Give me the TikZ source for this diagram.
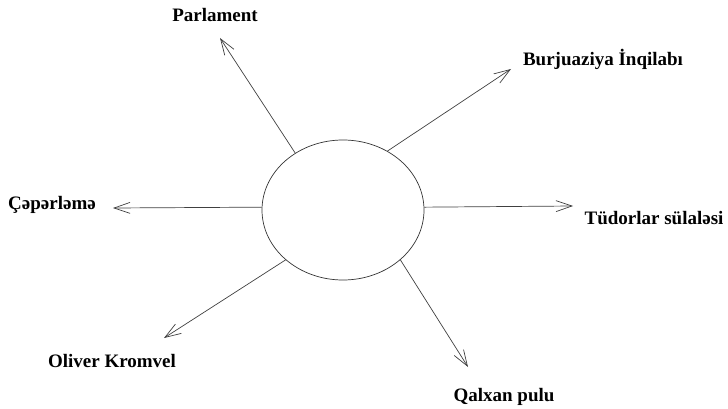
\documentclass[tikz,border=0pt]{standalone}
\usepackage{fontspec}
\setmainfont{Liberation Serif}
\usetikzlibrary{arrows.meta,shapes.geometric}

\tikzset{
  lbl/.style={font=\bfseries\fontsize{19}{22}\selectfont, inner sep=0pt},
  ray/.style={draw=black!75, line width=0.7pt, -{Straight Barb[length=16pt,width=11pt]}}
}

\begin{document}
\begin{tikzpicture}[x=1pt,y=-1pt]
      \useasboundingbox (0,0) rectangle (728,409);
      %%%%%%%%%%%%%%%%%%%%%%%%%%%%%%%%%%%%%%%%%%%%%%%
      \node[draw=black!80, line width=0.7pt, ellipse, minimum width=162, minimum height=140, inner sep=0pt] at (343,210) (hub) {};
      %%%%%%%%%%%%%%%%%%%%%%%%%%%%%%%%%%%%%%%%%%%%%%%
      \node[lbl] at (215,15)  (parl) {Parlament};
      \node[lbl] at (603,59)  (burj) {Burjuaziya İnqilabı};
      \node[lbl] at (654,218) (tud)  {Tüdorlar sülaləsi};
      \node[lbl] at (504,397) (qalx) {Qalxan pulu};
      \node[lbl] at (112,361) (oliv) {Oliver Kromvel};
      \node[lbl] at (52,205)  (cep)  {Çəpərləmə};
      %%%%%%%%%%%%%%%%%%%%%%%%%%%%%%%%%%%%%%%%%%%%%%%
      \coordinate (tparl) at (220,38);
      \coordinate (tburj) at (511,69);
      \coordinate (ttud)  at (573,206);
      \coordinate (tqalx) at (468,367);
      \coordinate (toliv) at (164,338);
      \coordinate (tcep)  at (113,208);
      \draw[ray] (hub.130) -- (tparl);
      \draw[ray] (hub.53)  -- (tburj);
      \draw[ray] (hub.2)   -- (ttud);
      \draw[ray] (hub.319) -- (tqalx);
      \draw[ray] (hub.221) -- (toliv);
      \draw[ray] (hub.178) -- (tcep);
      %%%%%%%%%%%%%%%%%%%%%%%%%%%%%%%%%%%%%%%%%%%%%%%
\end{tikzpicture}
\end{document}
